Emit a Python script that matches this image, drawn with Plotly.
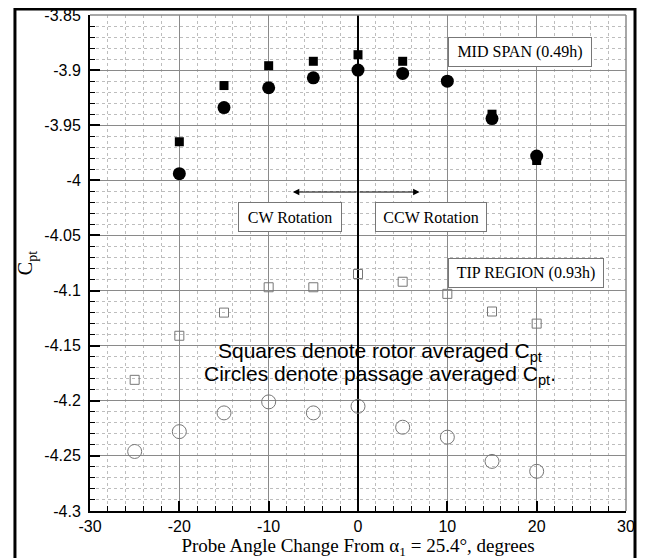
import plotly.graph_objects as go

angles = [-25, -20, -15, -10, -5, 0, 5, 10, 15, 20]

# Mid span (0.49h)
mid_x = [-20, -15, -10, -5, 0, 5, 10, 15, 20]
mid_rotor = [-3.965, -3.914, -3.896, -3.892, -3.886, -3.892, -3.910, -3.940, -3.982]
mid_passage = [-3.994, -3.934, -3.916, -3.907, -3.900, -3.903, -3.910, -3.944, -3.978]

# Tip region (0.93h)
tip_x = angles
tip_rotor = [-4.181, -4.141, -4.120, -4.097, -4.097, -4.085, -4.092, -4.103, -4.119, -4.130]
tip_passage = [-4.246, -4.228, -4.211, -4.201, -4.211, -4.205, -4.224, -4.233, -4.255, -4.264]

x_ticks = [-30, -20, -10, 0, 10, 20, 30]
x_tick_text = ["-30", "-20", "-10", "0", "10", "20", "30"]
y_ticks = [-3.85, -3.9, -3.95, -4.0, -4.05, -4.1, -4.15, -4.2, -4.25, -4.3]
y_tick_text = ["-3.85", "-3.9", "-3.95", "-4", "-4.05", "-4.1", "-4.15", "-4.2", "-4.25", "-4.3"]

SERIF = "Liberation Serif, Times New Roman, serif"
SANS = "Liberation Sans, Arial, sans-serif"

fig = go.Figure()
fig.add_trace(go.Scatter(x=mid_x, y=mid_passage, mode="markers",
                         marker=dict(symbol="circle", size=13, color="black"), showlegend=False))
fig.add_trace(go.Scatter(x=mid_x, y=mid_rotor, mode="markers",
                         marker=dict(symbol="square", size=9, color="black"), showlegend=False))
fig.add_trace(go.Scatter(x=tip_x, y=tip_passage, mode="markers",
                         marker=dict(symbol="circle-open", size=14, color="#777", line=dict(width=1)),
                         showlegend=False))
fig.add_trace(go.Scatter(x=tip_x, y=tip_rotor, mode="markers",
                         marker=dict(symbol="square-open", size=9, color="#777", line=dict(width=1)),
                         showlegend=False))

axis_common = dict(
    showgrid=True, gridcolor="#8a8a8a", gridwidth=1,
    ticks="inside", ticklen=10, tickwidth=2, tickcolor="black",
    showline=True, linecolor="black", linewidth=2,
    tickfont=dict(family=SANS, size=16, color="black"),
    automargin=False, ticklabeloverflow="allow",
)

fig.update_xaxes(
    range=[-30, 30], tickvals=x_ticks, ticktext=x_tick_text,
    zeroline=True, zerolinecolor="black", zerolinewidth=2,
    minor=dict(dtick=2, showgrid=True, gridcolor="#bdbdbd", griddash="dot",
               ticks="inside", ticklen=5, tickwidth=1, tickcolor="black"),
    title=dict(text="Probe Angle Change From α<sub>1</sub> = 25.4°, degrees",
               font=dict(family=SERIF, size=19, color="black"), standoff=3),
    **axis_common,
)
fig.update_yaxes(
    range=[-4.3, -3.85], tickvals=y_ticks, ticktext=y_tick_text,
    zeroline=False,
    minor=dict(dtick=0.01, showgrid=True, gridcolor="#bdbdbd", griddash="dot",
               ticks="inside", ticklen=5, tickwidth=1, tickcolor="black"),
    title=dict(text="C<sub>pt</sub>", font=dict(family=SERIF, size=20, color="black"), standoff=6),
    ticklabelstandoff=4,
    **axis_common,
)

box_style = dict(showarrow=False, bgcolor="white", bordercolor="#777", borderwidth=1,
                 font=dict(family=SERIF, size=16, color="black"), height=26)
fig.add_annotation(x=18.1, y=-3.8836, text="MID SPAN (0.49h)", width=140, **box_style)
fig.add_annotation(x=-7.6, y=-4.033, text="CW Rotation", width=100, **box_style)
fig.add_annotation(x=8.2, y=-4.033, text="CCW Rotation", width=108, **box_style)
fig.add_annotation(x=18.8, y=-4.0837, text="TIP REGION (0.93h)", width=152, **box_style)

# double-headed arrow
for end in (-7.3, 6.9):
    fig.add_annotation(x=end, y=-4.0106, ax=0, ay=-4.0106, axref="x", ayref="y",
                       text="", showarrow=True, arrowhead=2, arrowsize=1.3, arrowwidth=1,
                       arrowcolor="black")

fig.add_annotation(x=2.46, y=-4.1558, text="Squares denote rotor averaged C<sub>pt</sub>",
                   showarrow=False, font=dict(family=SANS, size=21, color="black"))
fig.add_annotation(x=2.46, y=-4.1767, text="Circles denote passage averaged C<sub>pt</sub>.",
                   showarrow=False, font=dict(family=SANS, size=21, color="black"))

# top/right plot border (gray) and outer black frame
fig.add_shape(type="line", xref="paper", yref="paper", x0=0, x1=1, y0=1, y1=1,
              line=dict(color="#8a8a8a", width=1.5))
fig.add_shape(type="line", xref="paper", yref="paper", x0=1, x1=1, y0=0, y1=1,
              line=dict(color="#8a8a8a", width=1.5))
fig.add_shape(type="rect", xref="paper", yref="paper",
              x0=-0.14, x1=1.0168, y0=-0.2, y1=1.0121,
              line=dict(color="black", width=3))

fig.update_layout(
    width=646, height=558,
    margin=dict(l=82, r=28, t=7, b=55),
    plot_bgcolor="white", paper_bgcolor="white",
    showlegend=False,
)

fig.write_html("out.html")
